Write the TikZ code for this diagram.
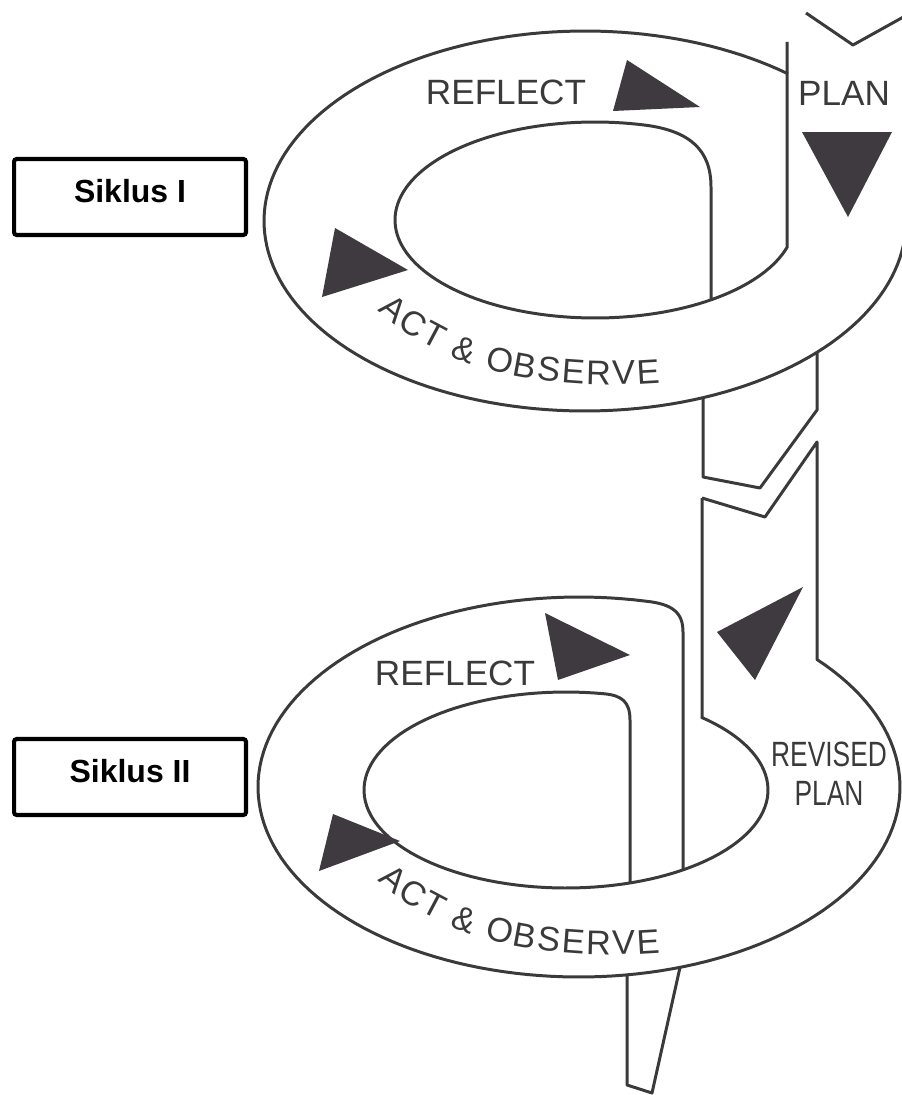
\documentclass[tikz,border=0pt]{standalone}
\usepackage{fontspec}
\setmainfont{Liberation Sans}
\usetikzlibrary{decorations.text}
\definecolor{ink}{HTML}{3A3A3A}
\definecolor{wedgegray}{HTML}{3E3A40}
\begin{document}
\begin{tikzpicture}[
    x = 0.02cm, y = -0.02cm,
    ring/.style = {draw = ink, line width = 1.7pt, line join = round},
    arrowhead/.style = {fill = wedgegray},
    stage/.style = {
        text = ink,
        inner sep = 0pt,
        align = center,
        font = \fontsize{20pt}{22pt}\selectfont
    },
    siklus/.style = {
        draw,
        line width = 2.3pt,
        rounded corners = 1.5pt,
        minimum width = 4.64cm,
        minimum height = 1.52cm,
        text depth = 7pt,
        font = \fontsize{18.2pt}{22pt}\selectfont\bfseries
    },
    actpath/.style = {
        decorate,
        decoration = {text along path, text align = fit to path,
            text = {|\color{ink}\fontsize{19.5pt}{22pt}\selectfont|ACT {\&} OBSERVE}}
    }
]
\useasboundingbox (0,0) rectangle (902,1095);
\clip (0,0) rectangle (902,1095);

% Cycle I: outer ring
\draw[ring] plot[domain = 5:309.2, samples = 150] ({585+321*cos(\x)}, {221+190*sin(\x)});

% Cycle I: plan strip and inner ring
\draw[ring] (787,42) -- (787,247)
    -- plot[domain = 16:284.5, samples = 120] ({595+200*cos(\x)}, {220+98*sin(\x)})
    .. controls (690,131) and (711,150) .. (711,187) -- (711,300);
\draw[ring] (806,13) -- (853,45) -- (925,5);

% Strip leaving cycle I
\draw[ring] (703,398) -- (703,477) -- (760,488) -- (817,410) -- (817,352);

% Cycle II: revised plan strip, outer ring
\draw[ring] (702,498) -- (765,517) -- (817,442) -- (817,659.5)
    -- plot[domain = -42.1:282, samples = 150] ({579+321*cos(\x)}, {787+190*sin(\x)})
    .. controls (672,604) and (683,612) .. (683,632) -- (683,870);

% Cycle II: inner ring
\draw[ring] (702,498) -- (702,718)
    -- plot[domain = -47.7:281, samples = 120] ({566+202*cos(\x)}, {790+98*sin(\x)})
    .. controls (622,695.5) and (630,702) .. (630,720) -- (630,883);

% Strip leaving cycle II
\draw[ring] (627,975) -- (627,1085) -- (652,1093) -- (680,967.4);

% Arrow heads
\fill[arrowhead] (613,111) -- (627,60) -- (700,107) -- cycle;
\fill[arrowhead] (802,132) -- (892,132) -- (848,217) -- cycle;
\fill[arrowhead] (335,228) -- (322,297) -- (408,270) -- cycle;
\fill[arrowhead] (545,613) -- (558,680) -- (630,655) -- cycle;
\fill[arrowhead] (803,587) -- (717,632) -- (755,680) -- cycle;
\fill[arrowhead] (333,814) -- (319,871) -- (400,841) -- cycle;

% Stage labels
\node[stage] (reflect1) at (506,92) {REFLECT};
\node[stage] (plan1) at (844,93) {PLAN};
\node[stage] (reflect2) at (455,673) {REFLECT};
\node[stage, xscale = 0.75] (plan2) at (829,774) {REVISED\\PLAN};

\path[actpath] (378,310) .. controls (440,368) and (540,392) .. (660,383);
\path[actpath] (378,880) .. controls (440,938) and (540,962) .. (660,953);

% Cycle names
\node[siklus] (siklus1) at (130,197) {Siklus I};
\node[siklus] (siklus2) at (130,777) {Siklus II};

\end{tikzpicture}
\end{document}
